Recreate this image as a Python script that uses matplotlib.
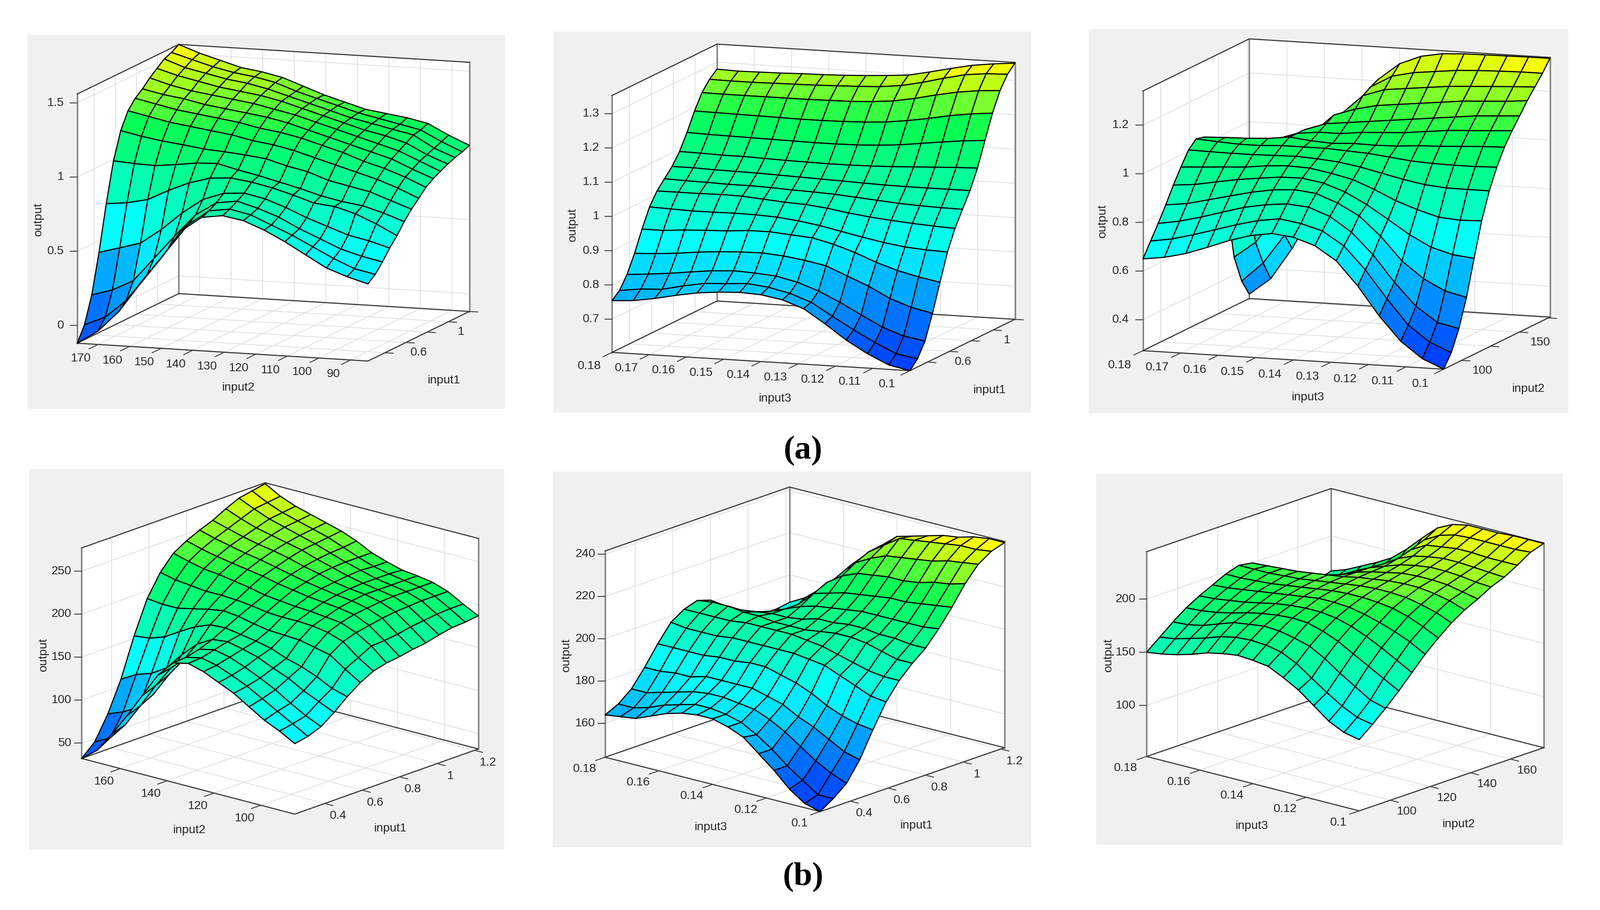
import numpy as np
import matplotlib
matplotlib.use("Agg")
import matplotlib.pyplot as plt
from matplotlib.colors import LinearSegmentedColormap, Normalize
from matplotlib.patches import Rectangle
from mpl_toolkits.mplot3d import proj3d

W, H = 3789, 2155
plt.rcParams['font.family'] = ['Liberation Sans', 'DejaVu Sans']
plt.rcParams['grid.color'] = '#e0e0e0'
plt.rcParams['grid.linewidth'] = 1.4

# ---- read values: each row runs along the horizontal input whose ticks are on the
# front-bottom edge, left to right; rows go from front to back.
z_a1 = [
 [-.12,-.03,.11,.30,.48,.68,.78,.80,.775,.72,.65,.57,.49,.44,.40],
 [-.02,.04,.16,.34,.52,.70,.80,.82,.79,.73,.67,.60,.53,.47,.44],
 [.157,.20,.27,.43,.59,.74,.83,.85,.81,.76,.69,.63,.57,.53,.50],
 [.42,.46,.50,.60,.72,.82,.87,.88,.85,.80,.74,.69,.64,.61,.57],
 [.725,.74,.77,.84,.90,.94,.95,.93,.90,.86,.815,.80,.76,.70,.63],
 [.99,.98,.975,.99,1.01,1.015,.98,.95,.915,.88,.84,.81,.79,.75,.70],
 [1.17,1.14,1.117,1.10,1.08,1.07,1.057,1.04,1.00,.97,.92,.89,.86,.81,.76],
 [1.28,1.25,1.22,1.20,1.18,1.16,1.13,1.11,1.08,1.04,1.00,.96,.92,.87,.81],
 [1.34,1.31,1.28,1.26,1.24,1.22,1.19,1.17,1.14,1.10,1.06,1.01,.97,.92,.86],
 [1.38,1.35,1.33,1.30,1.28,1.26,1.24,1.21,1.17,1.13,1.09,1.05,1.01,.95,.895],
 [1.43,1.39,1.36,1.34,1.32,1.30,1.27,1.24,1.20,1.16,1.12,1.08,1.04,.98,.92],
 [1.47,1.43,1.40,1.37,1.35,1.33,1.30,1.26,1.22,1.18,1.14,1.11,1.07,1.00,.945],
 [1.51,1.46,1.43,1.40,1.38,1.35,1.31,1.27,1.23,1.19,1.16,1.13,1.10,1.02,.965],
 [1.53,1.49,1.45,1.42,1.40,1.37,1.32,1.28,1.24,1.20,1.17,1.14,1.11,1.04,.98],
 [1.56,1.51,1.47,1.43,1.41,1.38,1.33,1.28,1.24,1.20,1.18,1.16,1.13,1.06,1.00],
]
z_a2 = [
 [.754,.758,.768,.781,.792,.798,.801,.798,.787,.765,.725,.681,.645,.616,.603],
 [.773,.781,.784,.798,.809,.812,.816,.809,.795,.773,.736,.70,.667,.638,.627],
 [.809,.814,.82,.828,.835,.839,.836,.831,.817,.795,.766,.733,.701,.679,.668],
 [.860,.863,.868,.875,.880,.883,.884,.879,.870,.858,.832,.806,.774,.752,.738],
 [.920,.920,.925,.928,.93,.935,.935,.93,.925,.91,.89,.865,.845,.83,.818],
 [.974,.972,.97,.97,.971,.97,.967,.96,.95,.937,.924,.912,.903,.898,.896],
 [1.01,1.01,1.01,1.011,1.01,1.005,1.00,.997,.99,.98,.972,.966,.961,.957,.954],
 [1.035,1.033,1.032,1.03,1.03,1.028,1.025,1.023,1.02,1.015,1.01,1.005,1.002,1.00,.999],
 [1.06,1.06,1.058,1.057,1.056,1.054,1.052,1.05,1.048,1.046,1.044,1.043,1.043,1.043,1.043],
 [1.093,1.092,1.09,1.09,1.088,1.086,1.085,1.084,1.084,1.085,1.087,1.09,1.093,1.096,1.098],
 [1.138,1.136,1.135,1.134,1.133,1.132,1.131,1.131,1.132,1.135,1.14,1.148,1.156,1.163,1.168],
 [1.19,1.189,1.188,1.187,1.186,1.185,1.185,1.186,1.188,1.192,1.2,1.21,1.222,1.231,1.237],
 [1.233,1.232,1.232,1.232,1.232,1.232,1.233,1.234,1.237,1.243,1.254,1.268,1.28,1.288,1.292],
 [1.261,1.26,1.26,1.261,1.262,1.263,1.265,1.267,1.27,1.277,1.29,1.306,1.32,1.327,1.329],
 [1.28,1.278,1.279,1.28,1.282,1.283,1.285,1.288,1.292,1.297,1.31,1.324,1.337,1.345,1.351],
]
z_a3 = [
 [.65,.662,.683,.714,.747,.773,.787,.777,.748,.691,.593,.475,.377,.311,.273],
 [.708,.722,.745,.771,.797,.819,.832,.818,.793,.737,.644,.531,.428,.363,.326],
 [.765,.78,.802,.828,.853,.869,.878,.87,.837,.778,.691,.583,.49,.429,.409],
 [.826,.837,.858,.879,.90,.915,.921,.911,.877,.83,.752,.655,.588,.543,.522],
 [.892,.90,.916,.931,.942,.952,.953,.938,.907,.861,.805,.748,.702,.677,.667],
 [.951,.956,.962,.967,.978,.983,.979,.963,.943,.908,.867,.836,.81,.803,.806],
 [1.006,1.004,1.003,1.003,1.005,1.007,1.002,.994,.979,.959,.939,.923,.915,.914,.914],
 [1.036,1.03,1.025,1.025,1.03,1.03,1.03,1.025,1.02,1.01,1.0,.995,.993,.993,.996],
 [1.028,1.032,1.034,1.039,1.05,1.04,1.035,1.04,1.038,1.04,1.047,1.05,1.055,1.06,1.063],
 [.987,.99,1.0,1.02,1.05,1.06,1.06,1.07,1.075,1.08,1.09,1.10,1.105,1.11,1.115],
 [.879,.90,.94,1.0,1.05,1.08,1.09,1.10,1.11,1.12,1.13,1.14,1.15,1.155,1.161],
 [.721,.76,.83,.92,1.02,1.10,1.13,1.15,1.16,1.17,1.18,1.19,1.195,1.20,1.208],
 [.474,.54,.66,.80,.96,1.09,1.17,1.20,1.21,1.22,1.23,1.235,1.24,1.245,1.249],
 [.36,.44,.56,.72,.90,1.08,1.19,1.24,1.26,1.27,1.28,1.285,1.288,1.29,1.29],
 [.291,.36,.49,.65,.87,1.071,1.206,1.276,1.312,1.328,1.333,1.334,1.335,1.336,1.336],
]
z_b1 = [
 [32,46,70,96,124,152,171,175,170,162,154,143,132,124,114],
 [46,55,75,102,130,155,172,176,172,165,157,147,137,127,117],
 [73,80,90,110,137,160,176,180,176,169,161,152,141,131,123],
 [108,118,124,135,155,172,182,184,180,175,167,160,150,142,134],
 [153,155,161,172,182,189,190,187,184,180,173,168,161,152,147],
 [191,189,189,193,197,200,198,194,191,190,189,185,181,169,158],
 [216,212,210,208,208,207,205,202,201,201,200,197,191,177,166],
 [233,228,224,222,219,216,212,210,208,207,205,203,196,185,170],
 [242,237,233,230,227,224,220,217,214,212,210,207,199,186,172],
 [249,244,240,236,233,229,225,221,218,215,213,209,202,188,175],
 [255,250,245,241,238,234,229,225,220,217,215,211,204,191,177],
 [263,256,250,246,242,238,232,227,222,218,215,212,205,193,181],
 [270,262,255,250,245,240,234,228,223,218,215,212,206,195,184],
 [273,264,257,252,247,242,235,228,222,218,215,212,206,196,185],
 [276,266,259,254,249,244,237,228,222,217,215,212,206,196,187],
]
z_b2 = [
 [164,165,166,169,172,174,175,175,173,170,164,158,151,146,144],
 [167,167,169,172,174,176,176,175,173,169,164,158,153,148,148],
 [172,172,174,176,178,179,179,178,177,174,170,165,160,156,153],
 [180,180,181,181,183,183,183,183,181,179,175,172,168,164,162],
 [189,189,189,189,190,190,191,191,189,187,184,180,177,175,174],
 [197,196,196,196,197,197,197,197,197,196,195,192,189,186,185],
 [201,201,201,201,202,202,202,202,201,200,198,196,194,193,193],
 [203,204,204,203,203,202,202,202,203,204,204,203,201,199,199],
 [201,200,200,201,202,202,203,205,205,206,206,205,205,204,204],
 [195,194,197,199,202,205,207,208,209,210,210,210,210,210,211],
 [190,191,194,197,202,209,211,213,214,215,216,216,217,218,219],
 [189,190,193,197,203,212,217,220,221,222,222,223,225,226,228],
 [186,188,192,197,203,210,221,225,228,229,230,231,233,234,235],
 [186,187,192,197,204,213,224,229,234,235,236,237,238,238,239],
 [187,191,197,204,212,219,225,231,233,235,237,238,240,241,241],
]
z_b3 = [
 [150,152,155,159,164,167,169,168,166,159,151,140,129,122,119],
 [160,162,166,170,175,178,179,178,175,168,158,148,139,132,129],
 [170,171,174,179,184,186,188,187,184,180,172,162,153,144,140],
 [179,180,182,185,189,192,194,195,194,190,184,176,168,160,152],
 [186,187,189,191,194,197,199,200,200,198,194,188,181,173,165],
 [192,193,195,197,199,201,203,205,205,204,201,197,192,186,178],
 [198,198,199,200,202,204,206,208,209,209,208,206,202,196,189],
 [202,202,202,203,204,206,208,210,212,213,213,212,209,205,199],
 [200,201,202,203,205,207,209,212,214,216,217,217,215,212,207],
 [189,189,191,193,197,203,209,213,216,219,220,220,219,216,213],
 [180,181,185,189,194,202,209,214,219,222,224,224,223,221,220],
 [172,175,179,185,192,199,208,217,223,226,228,228,227,226,225],
 [167,171,176,181,189,197,207,221,229,231,233,233,232,232,232],
 [163,167,172,179,187,195,207,226,234,238,239,239,239,239,240],
 [167,172,179,186,194,206,220,233,240,243,243,243,244,244,244],
]

# axis ranges and ticks
input1_range = (0.24, 1.2)
input1_range_b = (0.24, 1.22)
input2_range = (84.5, 176.6)
input3_range = (0.10, 0.18)
input1_ticks = [0.4, 0.6, 0.8, 1, 1.2]
input3_ticks_a = [.18, .17, .16, .15, .14, .13, .12, .11, .1]
input3_ticks_b = [.18, .16, .14, .12, .1]

caption_labels = ['(a)', '(b)']

cmap = LinearSegmentedColormap.from_list(
    'fuzzy', [(0, (0, 64/255, 1)), (.35, (0, 1, 1)), (.74, (0, 1, 85/255)), (.98, (1, 1, 0)), (1, (1, 1, 0))], N=64)

FX1, FX2, FY1, FY2 = 1170/1567, 1229/1567, 920/1567, 930/1567

# layout, read in zoom-crop units, converted by (ox, oy, fx, fy)
panels = [
 dict(z=z_a1, xr=input1_range, yr=input2_range, zr=(-.12, 1.56), xname='input1', yname='input2',
      xt=input1_ticks, xl=['', '0.6', '', '1', ''], yt=[170,160,150,140,130,120,110,100,90],
      yl=['170','160','150','140','130','120','110','100','90'], zt=[0,.5,1,1.5], zl=['0','0.5','1','1.5'],
      map=(50,70,FX1,FY1), A=(178,1265), B=(1100,1337), D=(500,1065), h=1005,
      rect=(65,82,1196,968), yo=(-54,57), xo=(40,41), zo=-42,
      t1=(688,1445), t2=(1340,1415), t3=(55,765)),
 dict(z=z_a2, xr=input1_range, yr=input3_range, zr=(.603,1.353), xname='input1', yname='input3',
      xt=input1_ticks, xl=['', '0.6', '', '1', ''], yt=input3_ticks_a,
      yl=['0.18','0.17','0.16','0.15','0.14','0.13','0.12','0.11','0.1'],
      zt=[.7,.8,.9,1,1.1,1.2,1.3], zl=['0.7','0.8','0.9','1','1.1','1.2','1.3'],
      map=(1300,60,FX1,FY2), A=(200,1305), B=(1145,1378), D=(533,1100), h=1025,
      rect=(1311,75,2442,977), yo=(-72,54), xo=(44,42), zo=-40,
      t1=(717,1490), t2=(1397,1455), t3=(75,795)),
 dict(z=z_a3, xr=input2_range, yr=input3_range, zr=(.273,1.34), xname='input2', yname='input3',
      xt=[100,125,150,175], xl=['100','','150',''], yt=input3_ticks_a,
      yl=['0.18','0.17','0.16','0.15','0.14','0.13','0.12','0.11','0.1'],
      zt=[.4,.6,.8,1,1.2], zl=['0.4','0.6','0.8','1','1.2'],
      map=(2560,60,FX2,FY2), A=(187,1298), B=(1095,1372), D=(508,1090), h=1036,
      rect=(2578,69,3714,979), yo=(-70,58), xo=(63,41), zo=-42,
      t1=(685,1485), t2=(1350,1450), t3=(65,780)),
 dict(z=z_b1, xr=input1_range_b, yr=(85.5,176.5), zr=(32,277), xname='input1', yname='input2',
      xt=input1_ticks, xl=['0.4','0.6','0.8','1','1.2'], yt=[160,140,120,100],
      yl=['160','140','120','100'], zt=[50,100,150,200,250], zl=['50','100','150','200','250'],
      map=(50,1100,FX1,FY2), A=(192,1173), B=(868,1395), D=(774,913), h=840,
      rect=(69,1111,1194,2012), yo=(-51,52), xo=(42,50), zo=-32,
      t1=(533,1460), t2=(1170,1452), t3=(70,758)),
 dict(z=z_b2, xr=input1_range_b, yr=input3_range, zr=(144,241.5), xname='input1', yname='input3',
      xt=input1_ticks, xl=['0.4','0.6','0.8','1','1.2'], yt=input3_ticks_b,
      yl=['0.18','0.16','0.14','0.12','0.1'], zt=[160,180,200,220,240], zl=['160','180','200','220','240'],
      map=(1300,1100,FX1,FY2), A=(178,1168), B=(860,1385), D=(763,913), h=823,
      rect=(1309,1117,2442,2006), yo=(-65,47), xo=(44,49), zo=-31,
      t1=(513,1447), t2=(1165,1440), t3=(55,760)),
 dict(z=z_b3, xr=input2_range, yr=input3_range, zr=(52,244.5), xname='input2', yname='input3',
      xt=[100,120,140,160], xl=['100','120','140','160'], yt=input3_ticks_b,
      yl=['0.18','0.16','0.14','0.12','0.1'], zt=[100,150,200], zl=['100','150','200'],
      map=(2560,1100,FX2,FY2), A=(198,1165), B=(840,1382), D=(755,913), h=817,
      rect=(2596,1122,3701,2001), yo=(-63,47), xo=(50,46), zo=-33,
      t1=(515,1443), t2=(1140,1435), t3=(82,760)),
]

fig = plt.figure(figsize=(W/100, H/100), dpi=100, facecolor='white')
TXT = '#262626'
FS = 20.5


def draw_panel(p):
    ox, oy, fx, fy = p['map']
    def full(q):
        return np.array([ox + q[0]*fx, H - (oy + q[1]*fy)])
    x0, y0, x1, y1 = p['rect']
    fig.add_artist(Rectangle((x0/W, 1-y1/H), (x1-x0)/W, (y1-y0)/H, transform=fig.transFigure,
                             facecolor='#f0f0f0', edgecolor='none', zorder=-1))
    A, B, D = full(p['A']), full(p['B']), full(p['D'])
    vx, vy = D-A, A-B
    hz = p['h']*fy
    tx, ty = vx[1]/vx[0], vy[1]/vy[0]
    sin_e = np.sqrt(-tx*ty)
    e = np.arcsin(sin_e)
    a = -np.pi + np.arctan2(sin_e, tx)
    Lx = vx[0]/(-np.sin(a)); Ly = vy[0]/np.cos(a); Lz = hz/np.cos(e)

    ax = fig.add_axes([0, 0, 1, 1], projection='3d', proj_type='ortho', computed_zorder=False)
    ax.view_init(elev=np.degrees(e), azim=np.degrees(a))
    ax.set_box_aspect((Lx, Ly, Lz))
    xr, yr, zr = p['xr'], p['yr'], p['zr']
    ax.set_xlim(*xr, view_margin=0); ax.set_ylim(*yr, view_margin=0); ax.set_zlim(*zr, view_margin=0)
    ax.set_facecolor('none')
    ax.set_xticks(p['xt'], labels=['']*len(p['xt']))
    ax.set_yticks(p['yt'], labels=['']*len(p['yt']))
    ax.set_zticks(p['zt'], labels=['']*len(p['zt']))
    for name, axis in zip('xyz', (ax.xaxis, ax.yaxis, ax.zaxis)):
        axis.set_pane_color((1, 1, 1, 1))
        axis.pane.set_edgecolor('none')
        axis.line.set_color('none')
        ax.tick_params(axis=name, color='none', labelcolor='none')
    ax.grid(True)

    # scale and shift the axes so that the box corners fall where they do in the picture
    Ax, Ay, Az = xr[0], yr[1], zr[0]
    Bx, By, Bz = xr[0], yr[0], zr[0]
    S = 2000.0; l = 0.0; b = 0.0
    for _ in range(3):
        ax.set_position([l/W, b/H, S/W, S/H])
        fig.canvas.draw()
        M = ax.M
        def px(x, y, z):
            X, Y, _z = proj3d.proj_transform(x, y, z, M)
            return ax.transData.transform((X, Y))
        a_px, b_px = px(Ax, Ay, Az), px(Bx, By, Bz)
        S *= np.linalg.norm(A-B)/np.linalg.norm(a_px-b_px)
        ax.set_position([l/W, b/H, S/W, S/H])
        fig.canvas.draw()
        a_px = px(Ax, Ay, Az)
        l += A[0]-a_px[0]; b += A[1]-a_px[1]
    ax.set_position([l/W, b/H, S/W, S/H])
    fig.canvas.draw()
    M = ax.M

    def proj2(x, y, z):
        X, Y, _z = proj3d.proj_transform(x, y, z, M)
        return (X, Y)

    # box
    xa, xb = xr; ya, yb = yr; za, zb = zr
    dark = dict(color='#3a3a3a', lw=1.9, zorder=1)
    grey = dict(color='#7f7f7f', lw=2.5, zorder=1)
    ax.plot([xa, xa], [yb, yb], [za, zb], **grey)
    ax.plot([xb, xb], [yb, yb], [za, zb], **grey)
    ax.plot([xb, xb], [ya, ya], [za, zb], **grey)
    ax.plot([xa, xa, xb, xb, xa], [yb, ya, ya, yb, yb], [za]*5, **dark)
    ax.plot([xa, xb, xb], [yb, yb, ya], [zb]*3, **dark)

    # surface: first row/col of every cell gives the flat colour
    Z = np.array(p['z'], dtype=float)[:, ::-1]
    xs = np.linspace(xa, xb, Z.shape[0])
    ys = np.linspace(ya, yb, Z.shape[1])
    XX, YY = np.meshgrid(xs, ys, indexing='ij')
    norm = Normalize(za, zb)
    surf = ax.plot_surface(XX, YY, Z, rstride=1, cstride=1, facecolors=cmap(norm(Z)),
                           shade=False, linewidth=1.9, antialiased=True, zorder=2)
    surf.set_edgecolor('black')
    surf.set_linewidth(1.9)

    # ticks and tick labels
    def tick(root, d):
        ax.annotate('', xy=root, xytext=d, textcoords='offset pixels', annotation_clip=False, zorder=3,
                    arrowprops=dict(arrowstyle='-', color='#444444', lw=1.6, shrinkA=0, shrinkB=0))
    def label(root, d, s, ha='center'):
        ax.annotate(s, xy=root, xytext=d, textcoords='offset pixels', annotation_clip=False, zorder=3,
                    ha=ha, va='center', fontsize=FS, color=TXT)
    ab = (A-B)/np.linalg.norm(A-B)
    cb = vx/np.linalg.norm(vx)
    for v, s in zip(p['yt'], p['yl']):
        r = proj2(xa, v, za)
        tick(r, tuple(-cb*24))
        if s:
            label(r, (p['yo'][0]*fx, -p['yo'][1]*fy), s)
    for v, s in zip(p['xt'], p['xl']):
        r = proj2(v, ya, za)
        tick(r, tuple(-ab*20))
        if s:
            label(r, (p['xo'][0]*fx, -p['xo'][1]*fy), s)
    for v, s in zip(p['zt'], p['zl']):
        r = proj2(xa, yb, v)
        tick(r, (-17, 0))
        label(r, (p['zo']*fx, 0), s, ha='right')

    # axis titles
    for q, s, rot in ((p['t1'], p['yname'], 0), (p['t2'], p['xname'], 0), (p['t3'], 'output', 90)):
        c = full(q)
        fig.text(c[0]/W, c[1]/H, s, ha='center', va='center', rotation=rot, fontsize=FS, color=TXT)


for p in panels:
    draw_panel(p)

fig.text(1902/W, 1-1068/H, caption_labels[0], ha='center', va='center', fontsize=57,
         family='Liberation Serif', fontweight='bold', color='black')
fig.text(1902/W, 1-2078/H, caption_labels[1], ha='center', va='center', fontsize=57,
         family='Liberation Serif', fontweight='bold', color='black')

fig.savefig('out.png', dpi=100, facecolor='white')
